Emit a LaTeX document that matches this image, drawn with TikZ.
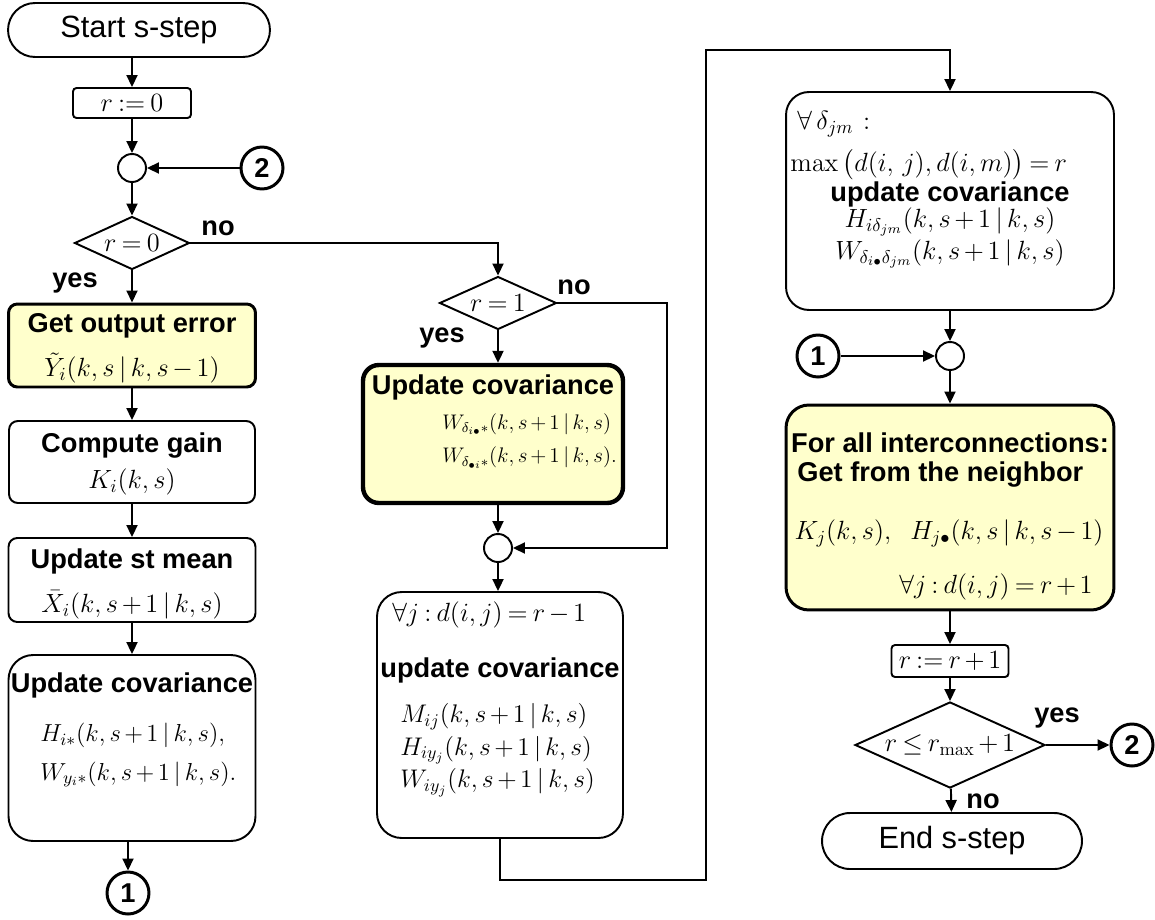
\RequirePackage{fix-cm}
\documentclass[tikz,border=0pt]{standalone}
\usepackage{amsmath}
\usepackage[no-math]{fontspec}
\setmainfont{Liberation Sans}
\usetikzlibrary{arrows.meta,shapes.geometric,shapes.misc}
\definecolor{hilite}{HTML}{FFFFCC}
\medmuskip=2.5mu plus 1mu minus 1mu
\thickmuskip=3.5mu plus 2mu
\newcommand{\mfs}{\fontsize{15}{22}\selectfont}
\newcommand{\cnd}{\,|\,}
\tikzset{
  flowbox/.style={draw, line width=1.1pt, fill=white, inner sep=0pt},
  hibox/.style={flowbox, fill=hilite, line width=1.7pt},
  termbox/.style={draw, rounded rectangle, line width=1.1pt, inner sep=0pt, font=\fontsize{17.5}{20}\selectfont},
  decide/.style={draw, diamond, line width=1.1pt, inner sep=0pt, aspect=2, font=\mfs},
  joint/.style={draw, circle, line width=1.1pt, minimum size=0.56cm, inner sep=0pt},
  connector/.style={draw, circle, line width=1.7pt, minimum size=0.84cm, inner sep=0pt, font=\fontsize{15.5}{18}\selectfont\bfseries},
  hdr/.style={font=\fontsize{15.5}{18}\selectfont\bfseries, inner sep=0pt},
  mth/.style={font=\mfs, inner sep=0pt},
  flowarrow/.style={-{Triangle[length=2.4mm,width=2.2mm]}, line width=1.1pt}
}

\begin{document}
\begin{tikzpicture}[x=0.02cm,y=-0.02cm]
  \useasboundingbox (0,0) rectangle (1155,919);

  % left column
  \node[termbox, minimum width=5.24cm, minimum height=1.08cm] (start) at (139,30) {Start s-step};
  \node[flowbox, rounded corners=2pt, minimum width=2.36cm, minimum height=0.6cm, font=\mfs] (set0) at (132,103) {$r:=0$};
  \node[joint] (j1) at (132,168) {};
  \node[connector] (c2a) at (262,168) {2};
  \node[decide, minimum width=2.3cm, minimum height=1.06cm] (d0) at (132,243) {$r=0$};

  \node[hibox, rounded corners=5pt, minimum width=4.94cm, minimum height=1.66cm] (err) at (132,345.5) {};
  \node[hdr] (errhd) at (132,326) {Get output error};
  \node[mth] (errtx) at (132,368) {$\tilde{Y}_i(k,s\cnd k,s-1)$};

  \node[flowbox, rounded corners=5pt, minimum width=4.92cm, minimum height=1.64cm] (gain) at (132,462) {};
  \node[hdr] (gainhd) at (132,446) {Compute gain};
  \node[mth] (gaintx) at (132,482) {$K_i(k,s)$};

  \node[flowbox, rounded corners=5pt, minimum width=4.94cm, minimum height=1.68cm] (mean) at (132,580) {};
  \node[hdr] (meanhd) at (132,561) {Update st mean};
  \node[mth] (meantx) at (132,605) {$\bar{X}_i(k,s+1\cnd k,s)$};

  \node[flowbox, rounded corners=14pt, minimum width=4.94cm, minimum height=3.72cm] (cov1) at (132,748) {};
  \node[hdr] (cov1hd) at (132,685) {Update covariance};
  \node[mth, font=\fontsize{14}{22}\selectfont, align=left, anchor=west] (cov1tx) at (40,755)
    {$H_{i*}(k,s+1\cnd k,s),$\\$W_{y_i*}(k,s+1\cnd k,s).$};
  \node[connector] (c1a) at (128,893) {1};

  % middle column
  \node[decide, minimum width=2.34cm, minimum height=1.06cm] (d1) at (498,303) {$r=1$};

  \node[hibox, line width=2.5pt, rounded corners=9pt, minimum width=5.2cm, minimum height=2.76cm] (cov2) at (493,434) {};
  \node[hdr] (cov2hd) at (493,387) {Update covariance};
  \node[mth, font=\fontsize{12}{19}\selectfont, align=left, anchor=west] (cov2tx) at (442,441)
    {$W_{\delta_{i\bullet}*}(k,s+1\cnd k,s)$\\$W_{\delta_{\bullet i}*}(k,s+1\cnd k,s).$};

  \node[joint] (j2) at (498,548) {};
  \coordinate (skip) at (667,548);

  \node[flowbox, rounded corners=14pt, minimum width=4.92cm, minimum height=4.92cm] (cov3) at (500,715) {};
  \node[mth, anchor=west] (cov3top) at (392,615) {$\forall j: d(i,j)=r-1$};
  \node[hdr] (cov3hd) at (500,670) {update covariance};
  \node[mth, font=\fontsize{14.5}{18.7}\selectfont, align=left, anchor=west] (cov3tx) at (400,750)
    {$M_{ij}(k,s+1\cnd k,s)$\\$H_{iy_j}(k,s+1\cnd k,s)$\\$W_{iy_j}(k,s+1\cnd k,s)$};

  \coordinate (lowturn) at (706,880);
  \coordinate (highturn) at (706,50);

  % right column
  \node[flowbox, rounded corners=13pt, minimum width=6.56cm, minimum height=4.36cm] (cov4) at (950,201) {};
  \node[mth, anchor=west] (cov4top) at (797,124) {$\forall\,\delta_{jm}\,:$};
  \node[mth, anchor=west] (cov4max) at (790,165) {$\max\,\bigl(d(i,\,j),d(i,m)\bigr)=r$};
  \node[hdr] (cov4hd) at (950,194) {update covariance};
  \node[mth] (cov4h) at (950,222) {$H_{i\delta_{jm}}(k,s+1\cnd k,s)$};
  \node[mth] (cov4w) at (950,254) {$W_{\delta_{i\bullet}\delta_{jm}}(k,s+1\cnd k,s)$};

  \node[joint] (j3) at (950,356) {};
  \node[connector] (c1b) at (818,356) {1};

  \node[hibox, rounded corners=13pt, minimum width=6.56cm, minimum height=4.1cm] (get) at (950,507.5) {};
  \node[hdr] (gethd) at (950,443) {For all interconnections:};
  \node[hdr, anchor=west] (getsub) at (797,475) {Get from the neighbor};
  \node[mth] (gettx) at (949,533) {$K_j(k,s),\ \ H_{j\bullet}(k,s\cnd k,s-1)$};
  \node[mth, anchor=east] (getcond) at (1093,587) {$\forall j: d(i,j)=r+1$};

  \node[flowbox, rounded corners=2pt, minimum width=2.34cm, minimum height=0.64cm, font=\mfs] (inc) at (950,661) {$r:=r+1$};
  \node[decide, minimum width=3.8cm, minimum height=1.32cm] (d2) at (950,745) {$r\le r_{\max}+1$};
  \node[connector] (c2b) at (1132,745) {2};
  \node[termbox, minimum width=5.2cm, minimum height=1.12cm] (endn) at (952,841) {End s-step};

  % branch labels
  \node[hdr] (no0) at (218,228) {no};
  \node[hdr] (yes0) at (75,283) {yes};
  \node[hdr] (no1) at (574,287) {no};
  \node[hdr] (yes1) at (442,338) {yes};
  \node[hdr] (yes2) at (1057,718) {yes};
  \node[hdr] (no2) at (983,801) {no};

  % connectors
  \draw[flowarrow] (start.south -| set0.north) -- (set0.north);
  \draw[flowarrow] (set0) -- (j1);
  \draw[flowarrow] (c2a) -- (j1);
  \draw[flowarrow] (j1) -- (d0);
  \draw[flowarrow] (d0.east) -| (d1.north);
  \draw[flowarrow] (d0.south) -- (err.north);
  \draw[flowarrow] (err) -- (gain);
  \draw[flowarrow] (gain) -- (mean);
  \draw[flowarrow] (mean) -- (cov1);
  \draw[flowarrow] (cov1.south -| c1a.north) -- (c1a.north);

  \draw[flowarrow] (d1.south) -- (d1.south |- cov2.north);
  \draw[flowarrow] (d1.east) -| (skip) -- (j2.east);
  \draw[flowarrow] (cov2.south -| j2.north) -- (j2.north);
  \draw[flowarrow] (j2.south) -- (j2.south |- cov3.north);
  \draw[flowarrow] (cov3.south) |- (lowturn) -- (highturn) -| (cov4.north);

  \draw[flowarrow] (cov4) -- (j3);
  \draw[flowarrow] (c1b) -- (j3);
  \draw[flowarrow] (j3) -- (get);
  \draw[flowarrow] (get) -- (inc);
  \draw[flowarrow] (inc) -- (d2);
  \draw[flowarrow] (d2) -- (c2b);
  \draw[flowarrow] (d2) -- (endn);

\end{tikzpicture}
\end{document}
